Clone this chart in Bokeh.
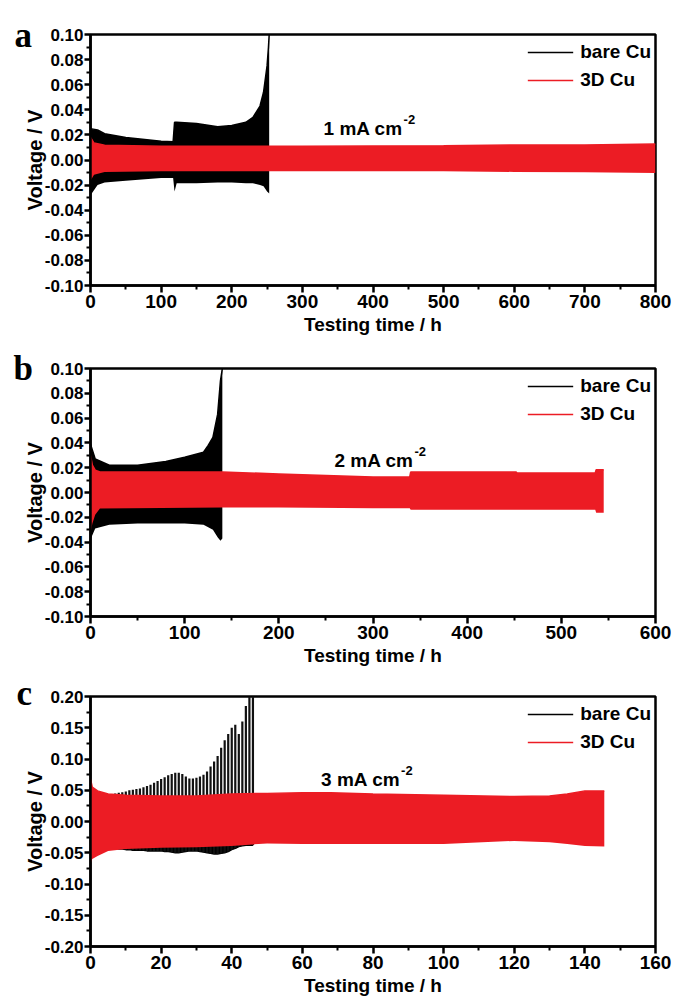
from bokeh.plotting import figure
from bokeh.layouts import column
from bokeh.models import (FixedTicker, PrintfTickFormatter, Legend, LegendItem,
                          Label, Range1d)
from bokeh.embed import file_html
from bokeh.resources import INLINE

# ---------------- data ----------------
# Panel a : 1 mA cm-2
bare_a_t  = [0, 10, 20, 50, 100, 117, 119, 122, 150, 180, 200, 220, 230, 240, 245, 250, 252, 253]
bare_a_hi = [0.025, 0.024, 0.021, 0.018, 0.015, 0.0145, 0.030, 0.030, 0.029, 0.0265, 0.0275, 0.030,
             0.034, 0.043, 0.054, 0.075, 0.090, 0.100]
bare_a_lo = [-0.028, -0.020, -0.018, -0.0166, -0.0144, -0.0144, -0.025, -0.0185, -0.0185, -0.018,
             -0.018, -0.0185, -0.0185, -0.020, -0.021, -0.025, -0.026, -0.0266]
d3_a_t  = [0, 5, 20, 100, 300, 500, 600, 700, 800]
d3_a_hi = [0.018, 0.0135, 0.0117, 0.011, 0.011, 0.0114, 0.012, 0.012, 0.0127]
d3_a_lo = [-0.0166, -0.0117, -0.0095, -0.009, -0.009, -0.009, -0.0095, -0.0098, -0.0104]

# Panel b : 2 mA cm-2
bare_b_t  = [0, 5, 20, 50, 80, 100, 120, 125, 130, 135, 138, 140]
bare_b_hi = [0.039, 0.027, 0.022, 0.022, 0.025, 0.0285, 0.0325, 0.038, 0.0445, 0.063, 0.090, 0.100]
bare_b_lo = [-0.038, -0.029, -0.026, -0.025, -0.025, -0.025, -0.026, -0.028, -0.030, -0.036, -0.039, -0.037]
d3_b_t  = [0, 2, 5, 10, 140, 200, 300, 339, 340, 452, 453, 536, 537, 545]
d3_b_hi = [0.030, 0.022, 0.018, 0.0165, 0.0165, 0.015, 0.0125, 0.0125, 0.0165, 0.0165, 0.0157, 0.0157, 0.0184, 0.0184]
d3_b_lo = [-0.033, -0.025, -0.018, -0.013, -0.012, -0.012, -0.0128, -0.0128, -0.014, -0.014, -0.014, -0.014, -0.0163, -0.0163]

# Panel c : 3 mA cm-2
bare_c_t  = list(range(0, 47))
bare_c_hi = [0.045, 0.042, 0.040, 0.040, 0.041, 0.042, 0.044, 0.045, 0.046, 0.047,
             0.048, 0.050, 0.051, 0.052, 0.053, 0.055, 0.057, 0.059, 0.062, 0.065,
             0.068, 0.071, 0.074, 0.076, 0.078, 0.078, 0.076, 0.072, 0.069, 0.069,
             0.070, 0.072, 0.075, 0.080, 0.088, 0.096, 0.105, 0.118, 0.130, 0.140,
             0.150, 0.155, 0.140, 0.160, 0.185, 0.200, 0.200]
bare_c_lo = [-0.040, -0.040, -0.041, -0.041, -0.042, -0.042, -0.043, -0.043, -0.044, -0.044,
             -0.045, -0.045, -0.046, -0.046, -0.046, -0.046, -0.047, -0.047, -0.047, -0.047,
             -0.047, -0.048, -0.048, -0.049, -0.050, -0.050, -0.049, -0.048, -0.047, -0.047,
             -0.047, -0.048, -0.049, -0.050, -0.051, -0.052, -0.052, -0.051, -0.050, -0.048,
             -0.045, -0.043, -0.040, -0.039, -0.038, -0.038, -0.038]
d3_c_t  = [0, 0.5, 2, 5, 10, 20, 30, 40, 50, 60, 68, 80, 100, 120, 130, 135, 140, 145.5]
d3_c_hi = [0.068, 0.055, 0.049, 0.044, 0.042, 0.041, 0.041, 0.044, 0.045, 0.046, 0.046, 0.044,
           0.042, 0.040, 0.041, 0.044, 0.049, 0.049]
d3_c_lo = [-0.068, -0.060, -0.055, -0.047, -0.044, -0.042, -0.041, -0.039, -0.035, -0.036, -0.036,
           -0.036, -0.036, -0.031, -0.033, -0.036, -0.039, -0.040]

# axes / ticks
xticks_a = [0, 100, 200, 300, 400, 500, 600, 700, 800]
xminor_a = [50, 150, 250, 350, 450, 550, 650, 750]
xticks_b = [0, 100, 200, 300, 400, 500, 600]
xminor_b = [50, 150, 250, 350, 450, 550]
xticks_c = [0, 20, 40, 60, 80, 100, 120, 140, 160]
xminor_c = [10, 30, 50, 70, 90, 110, 130, 150]
yticks_ab = [-0.10, -0.08, -0.06, -0.04, -0.02, 0.00, 0.02, 0.04, 0.06, 0.08, 0.10]
yminor_ab = [-0.09, -0.07, -0.05, -0.03, -0.01, 0.01, 0.03, 0.05, 0.07, 0.09]
yticks_c = [-0.20, -0.15, -0.10, -0.05, 0.00, 0.05, 0.10, 0.15, 0.20]
yminor_c = [-0.175, -0.125, -0.075, -0.025, 0.025, 0.075, 0.125, 0.175]

series_names = ["bare Cu", "3D Cu"]
current_labels = ["1 mA cm", "2 mA cm", "3 mA cm"]
panel_letters = ["a", "b", "c"]
x_title = "Testing time / h"
y_title = "Voltage / V"

RED = "#EC1C24"
SANS = "Liberation Sans"
SERIF = "Liberation Serif"


def make_panel(h, btop, bbot, xr, yr, xt, xm, yt, ym, letter, letter_y, cur, cur_xy):
    p = figure(width=675, height=h, x_range=Range1d(*xr), y_range=Range1d(*yr),
               output_backend="svg", toolbar_location=None,
               min_border_left=90, min_border_right=20,
               min_border_top=btop, min_border_bottom=bbot)
    p.xgrid.visible = False
    p.ygrid.visible = False
    p.outline_line_color = "black"
    p.outline_line_width = 2.5
    p.outline_line_alpha = 1.0
    p.background_fill_color = "white"
    p.border_fill_color = "white"

    p.xaxis.ticker = FixedTicker(ticks=xt, minor_ticks=xm)
    p.yaxis.ticker = FixedTicker(ticks=yt, minor_ticks=ym)
    p.yaxis.formatter = PrintfTickFormatter(format="%.2f")
    p.xaxis.axis_label = x_title
    p.yaxis.axis_label = y_title
    for ax in (p.xaxis, p.yaxis):
        ax.axis_line_width = 2.5
        ax.axis_line_color = "black"
        ax.major_tick_line_width = 2.5
        ax.major_tick_line_color = "black"
        ax.minor_tick_line_width = 2
        ax.minor_tick_line_color = "black"
        ax.major_tick_in = 0
        ax.minor_tick_in = 0
        ax.minor_tick_out = 4
        ax.major_label_text_font = SANS
        ax.major_label_text_font_style = "bold"
        ax.major_label_text_color = "black"
        ax.axis_label_text_font = SANS
        ax.axis_label_text_font_style = "bold"
        ax.axis_label_text_color = "black"
    p.xaxis.major_tick_out = 7
    p.xaxis.major_label_standoff = 2
    p.xaxis.major_label_text_font_size = "19px"
    p.xaxis.axis_label_text_font_size = "19px"
    p.xaxis.axis_label_standoff = 3
    p.yaxis.major_tick_out = 6
    p.yaxis.major_label_standoff = 1
    p.yaxis.major_label_text_font_size = "17px"
    p.yaxis.axis_label_text_font_size = "20px"
    p.yaxis.axis_label_standoff = -4

    # panel letter, in the left side panel (outside the y axis) so it is not clipped
    p.add_layout(Label(x=12, y=letter_y, x_units="screen", y_units="screen", text=letter,
                       text_font=SERIF, text_font_style="bold", text_font_size="35px",
                       text_color="black", text_baseline="alphabetic", text_align="left"),
                 "left")
    p.add_layout(Label(x=cur_xy[0], y=cur_xy[1], text=cur, text_font=SANS, text_font_style="bold",
                       text_font_size="19px", text_color="black", text_baseline="alphabetic"))
    p.add_layout(Label(x=cur_xy[0], y=cur_xy[1], x_offset=80, y_offset=9, text="-2", text_font=SANS,
                       text_font_style="bold", text_font_size="13px", text_color="black",
                       text_baseline="alphabetic"))
    return p


def add_legend(p, r_black, r_red):
    leg = Legend(items=[LegendItem(label=series_names[0], renderers=[r_black]),
                        LegendItem(label=series_names[1], renderers=[r_red])],
                 location="top_right", border_line_alpha=0, background_fill_alpha=0,
                 label_text_font=SANS, label_text_font_style="bold",
                 label_text_font_size="19px", label_text_color="black",
                 glyph_width=46, glyph_height=28, label_standoff=7, spacing=0,
                 padding=0, margin=4)
    p.add_layout(leg)


# ---- panel a ----
pa = make_panel(337, 34, 48, (0, 800), (-0.1, 0.1), xticks_a, xminor_a, yticks_ab, yminor_ab,
                panel_letters[0], 250, current_labels[0], (330, 0.025))
pa.varea(x=bare_a_t, y1=bare_a_lo, y2=bare_a_hi, fill_color="black")
ka = pa.line(x=bare_a_t, y=bare_a_hi, line_color="black", line_width=1.5)
pa.varea(x=d3_a_t, y1=d3_a_lo, y2=d3_a_hi, fill_color=RED)
ra = pa.line(x=d3_a_t, y=d3_a_hi, line_color=RED, line_width=1.5)
add_legend(pa, ka, ra)

# ---- panel b ----
pb = make_panel(331, 31, 52, (0, 600), (-0.1, 0.1), xticks_b, xminor_b, yticks_ab, yminor_ab,
                panel_letters[1], 248, current_labels[1], (259, 0.026))
pb.varea(x=bare_b_t, y1=bare_b_lo, y2=bare_b_hi, fill_color="black")
kb = pb.line(x=bare_b_t, y=bare_b_hi, line_color="black", line_width=1.5)
pb.varea(x=d3_b_t, y1=d3_b_lo, y2=d3_b_hi, fill_color=RED)
rb = pb.line(x=d3_b_t, y=d3_b_hi, line_color=RED, line_width=1.5)
add_legend(pb, kb, rb)

# ---- panel c ----
pc = make_panel(335, 28, 57, (0, 160), (-0.2, 0.2), xticks_c, xminor_c, yticks_c, yminor_c,
                panel_letters[2], 253, current_labels[2], (65.3, 0.068))
pc.varea(x=bare_c_t, y1=bare_c_lo, y2=[0.0] * len(bare_c_t), fill_color="black")
kc = pc.line(x=bare_c_t, y=bare_c_lo, line_color="black", line_width=1.5)
pc.segment(x0=bare_c_t, y0=bare_c_lo, x1=bare_c_t, y1=bare_c_hi, line_color="#111111", line_width=2.2)
pc.varea(x=d3_c_t, y1=d3_c_lo, y2=d3_c_hi, fill_color=RED)
rc = pc.line(x=d3_c_t, y=d3_c_hi, line_color=RED, line_width=1.5)
add_legend(pc, kc, rc)

layout = column(pa, pb, pc, spacing=0)
open("out.html", "w").write(file_html(layout, INLINE))
